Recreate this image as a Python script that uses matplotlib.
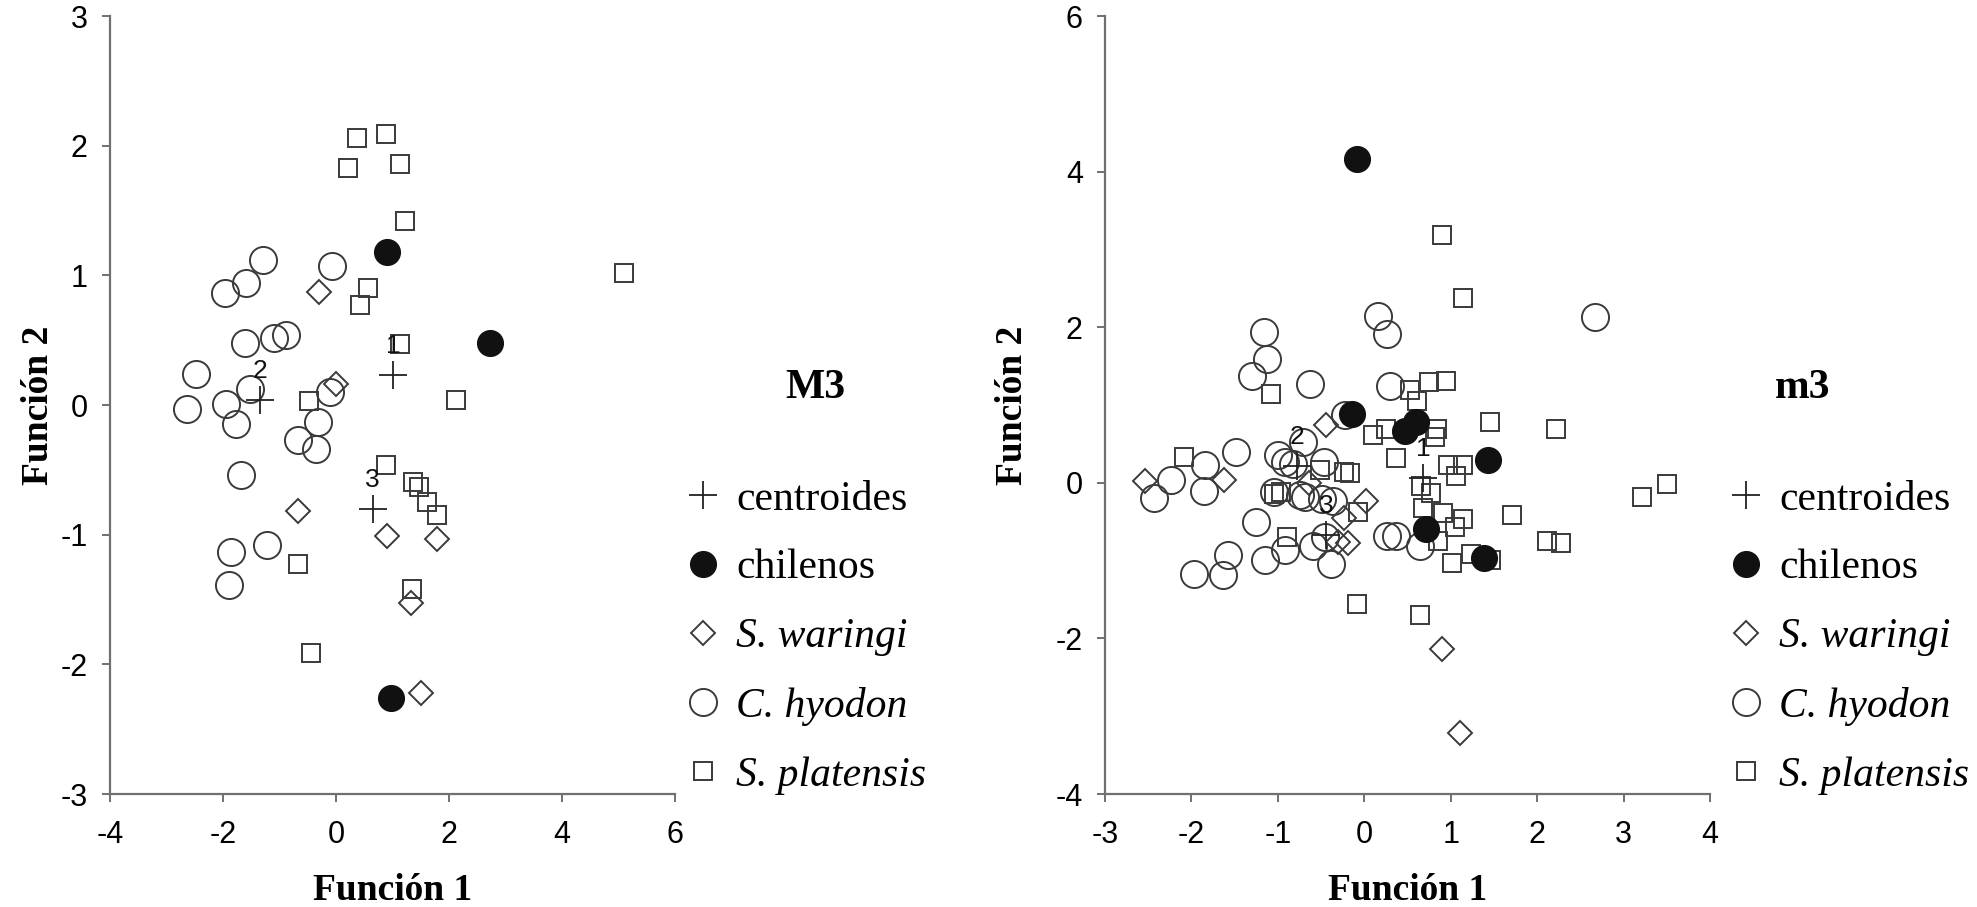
import matplotlib.pyplot as plt
from matplotlib.lines import Line2D

# ---- panel M3 (left) ----
m3_cent_x = [1.01, -1.35, 0.65]
m3_cent_y = [0.23, 0.04, -0.80]
m3_cent_lab = ['1', '2', '3']

m3_chil_x = [0.91, 2.72, 0.98]
m3_chil_y = [1.18, 0.48, -2.26]

m3_war_x = [-0.30, 0.00, -0.67, 0.90, 1.78, 1.32, 1.50]
m3_war_y = [0.87, 0.16, -0.82, -1.01, -1.03, -1.53, -2.22]

m3_hyo_x = [-1.29, -0.07, -1.59, -1.96, -1.61, -1.09, -0.88, -2.47, -2.63, -1.94,
            -1.52, -1.77, -0.11, -0.31, -0.68, -0.35, -1.68, -1.85, -1.22, -1.90]
m3_hyo_y = [1.12, 1.07, 0.94, 0.86, 0.48, 0.52, 0.54, 0.24, -0.03, 0.01,
            0.12, -0.15, 0.10, -0.13, -0.27, -0.34, -0.54, -1.13, -1.08, -1.39]

m3_pla_x = [0.38, 0.89, 0.22, 1.14, 1.23, 0.57, 0.42, 1.14, 5.09, -0.47,
            2.12, 0.88, 1.36, 1.47, 1.61, 1.78, -0.68, 1.35, -0.45]
m3_pla_y = [2.06, 2.09, 1.83, 1.86, 1.42, 0.90, 0.77, 0.47, 1.02, 0.03,
            0.04, -0.46, -0.59, -0.63, -0.75, -0.85, -1.23, -1.42, -1.91]

# ---- panel m3 (right) ----
mm3_cent_x = [0.68, -0.78, -0.44]
mm3_cent_y = [0.06, 0.22, -0.67]
mm3_cent_lab = ['1', '2', '3']

mm3_chil_x = [-0.09, -0.14, 0.60, 0.47, 1.43, 0.71, 1.38]
mm3_chil_y = [4.16, 0.88, 0.78, 0.66, 0.29, -0.59, -0.97]

mm3_war_x = [-0.44, -2.54, -1.62, -0.64, 0.02, -0.24, -0.19, -0.30, 0.90, 1.11]
mm3_war_y = [0.74, 0.02, 0.04, 0.00, -0.24, -0.45, -0.78, -0.76, -2.13, -3.21]

mm3_hyo_x = [0.16, 0.26, 2.67, 0.30, -0.22, 0.26, 0.37, 0.64, -1.16, -1.13,
             -1.30, -0.63, -1.84, -1.48, -2.24, -2.43, -1.85, -1.00, -0.92, -0.82,
             -0.71, -0.47, -1.05, -0.69, -0.49, -0.36, -1.25, -0.92, -1.15, -0.59,
             -0.46, -0.39, -1.58, -1.97, -1.63, -0.74]
mm3_hyo_y = [2.15, 1.91, 2.13, 1.24, 0.87, -0.68, -0.68, -0.81, 1.94, 1.59,
             1.37, 1.27, 0.23, 0.39, 0.03, -0.20, -0.11, 0.36, 0.27, 0.24,
             0.52, 0.27, -0.12, -0.18, -0.21, -0.24, -0.50, -0.87, -0.99, -0.81,
             -0.70, -1.04, -0.93, -1.17, -1.19, -0.16]

mm3_pla_x = [0.90, 1.14, 0.53, 0.75, 0.94, 0.61, 0.10, 0.25, 0.84, 0.82,
             1.45, 2.22, 0.37, 0.97, 1.14, 1.06, -0.17, 0.66, 0.77, -0.07,
             0.68, 0.91, 1.14, 1.71, 1.05, 0.85, 2.11, 2.28, 1.24, 1.01,
             1.47, -2.09, -1.08, -0.51, -0.24, -1.05, -0.96, -0.90, -0.09, 0.65,
             3.21, 3.50]
mm3_pla_y = [3.18, 2.38, 1.19, 1.29, 1.31, 1.05, 0.62, 0.69, 0.69, 0.59,
             0.78, 0.69, 0.32, 0.23, 0.23, 0.09, 0.13, -0.04, -0.13, -0.38,
             -0.33, -0.39, -0.47, -0.41, -0.57, -0.75, -0.75, -0.77, -0.91, -1.03,
             -0.99, 0.33, 1.14, 0.16, 0.14, -0.14, -0.12, -0.70, -1.56, -1.70,
             -0.18, -0.02]

leg_labels = ['centroides', 'chilenos', 'S. waringi', 'C. hyodon', 'S. platensis']

edge = '#3a3a3a'
serif = 'Liberation Serif'
sans = 'Liberation Sans'

fig = plt.figure(figsize=(19.77, 9.07), dpi=100)
W, H = 1977.0, 907.0


def panel(rect, xlim, xticks, ylim, yticks, cent, chil, war, hyo, pla, title,
          leg_x, title_x, ylab_x):
    ax = fig.add_axes(rect)
    ax.plot(pla[0], pla[1], 's', ms=13.5, mfc='none', mec=edge, mew=1.4, ls='none')
    ax.plot(hyo[0], hyo[1], 'o', ms=19.5, mfc='none', mec=edge, mew=1.4, ls='none')
    ax.plot(war[0], war[1], 'D', ms=12.5, mfc='none', mec=edge, mew=1.4, ls='none')
    ax.plot(chil[0], chil[1], 'o', ms=18.5, mfc='#111111', mec='#111111', mew=1, ls='none')
    ax.plot(cent[0], cent[1], '+', ms=20, mec='#222222', mew=1.3, ls='none')
    for cx, cy, t in zip(cent[0], cent[1], cent[2]):
        ax.annotate(t, (cx, cy), xytext=(0, 21), textcoords='offset points',
                    ha='center', va='center', fontsize=19, family=sans, color='#111')

    ax.set_xlim(xlim)
    ax.set_ylim(ylim)
    ax.set_xticks(xticks)
    ax.set_yticks(yticks)
    ax.set_xticklabels([str(v) for v in xticks], family=sans, fontsize=22)
    ax.set_yticklabels([str(v) for v in yticks], family=sans, fontsize=22)
    ax.tick_params(axis='both', direction='out', length=6, width=1.4, color='#707070')
    ax.tick_params(axis='x', pad=13)
    ax.tick_params(axis='y', pad=10)
    for s in ['top', 'right']:
        ax.spines[s].set_visible(False)
    for s in ['left', 'bottom']:
        ax.spines[s].set_color('#707070')
        ax.spines[s].set_linewidth(1.6)

    ax.set_xlabel('Función 1', family=serif, fontweight='bold', fontsize=27)
    ax.set_ylabel('Función 2', family=serif, fontweight='bold', fontsize=27)
    ax.xaxis.set_label_coords(0.5, (794 - 890) / 778.0)
    ax.xaxis.label.set_va('center')
    ax.yaxis.set_label_coords(ylab_x, 0.5)
    ax.yaxis.label.set_va('center')

    handles = [
        Line2D([], [], marker='+', ms=20, mec='#222222', mew=1.3, ls='none'),
        Line2D([], [], marker='o', ms=18.5, mfc='#111111', mec='#111111', ls='none'),
        Line2D([], [], marker='D', ms=12.5, mfc='none', mec=edge, mew=1.4, ls='none'),
        Line2D([], [], marker='o', ms=19.5, mfc='none', mec=edge, mew=1.4, ls='none'),
        Line2D([], [], marker='s', ms=13.5, mfc='none', mec=edge, mew=1.4, ls='none'),
    ]
    leg = ax.legend(handles, leg_labels, loc='upper left',
                    bbox_to_anchor=(leg_x / W, 1 - 480 / H),
                    bbox_transform=fig.transFigure, frameon=False,
                    prop={'family': serif, 'size': 30}, handlelength=1.0,
                    handletextpad=0.3, labelspacing=0.73, borderpad=0,
                    borderaxespad=0)
    for t in leg.get_texts()[2:]:
        t.set_style('italic')
    fig.text(title_x / W, 1 - 388 / H, title, family=serif, fontweight='bold',
             fontsize=30, ha='center', va='center')
    return ax


panel([110 / W, 1 - 794 / H, 565 / W, 778 / H], (-4, 6), [-4, -2, 0, 2, 4, 6],
      (-3, 3), [-3, -2, -1, 0, 1, 2, 3],
      (m3_cent_x, m3_cent_y, m3_cent_lab), (m3_chil_x, m3_chil_y),
      (m3_war_x, m3_war_y), (m3_hyo_x, m3_hyo_y), (m3_pla_x, m3_pla_y),
      'M3', 682, 815, -72 / 565.0)

panel([1105 / W, 1 - 794 / H, 605 / W, 778 / H], (-3, 4), [-3, -2, -1, 0, 1, 2, 3, 4],
      (-4, 6), [-4, -2, 0, 2, 4, 6],
      (mm3_cent_x, mm3_cent_y, mm3_cent_lab), (mm3_chil_x, mm3_chil_y),
      (mm3_war_x, mm3_war_y), (mm3_hyo_x, mm3_hyo_y), (mm3_pla_x, mm3_pla_y),
      'm3', 1725, 1803, -92 / 605.0)

fig.savefig('out.png', dpi=100)
